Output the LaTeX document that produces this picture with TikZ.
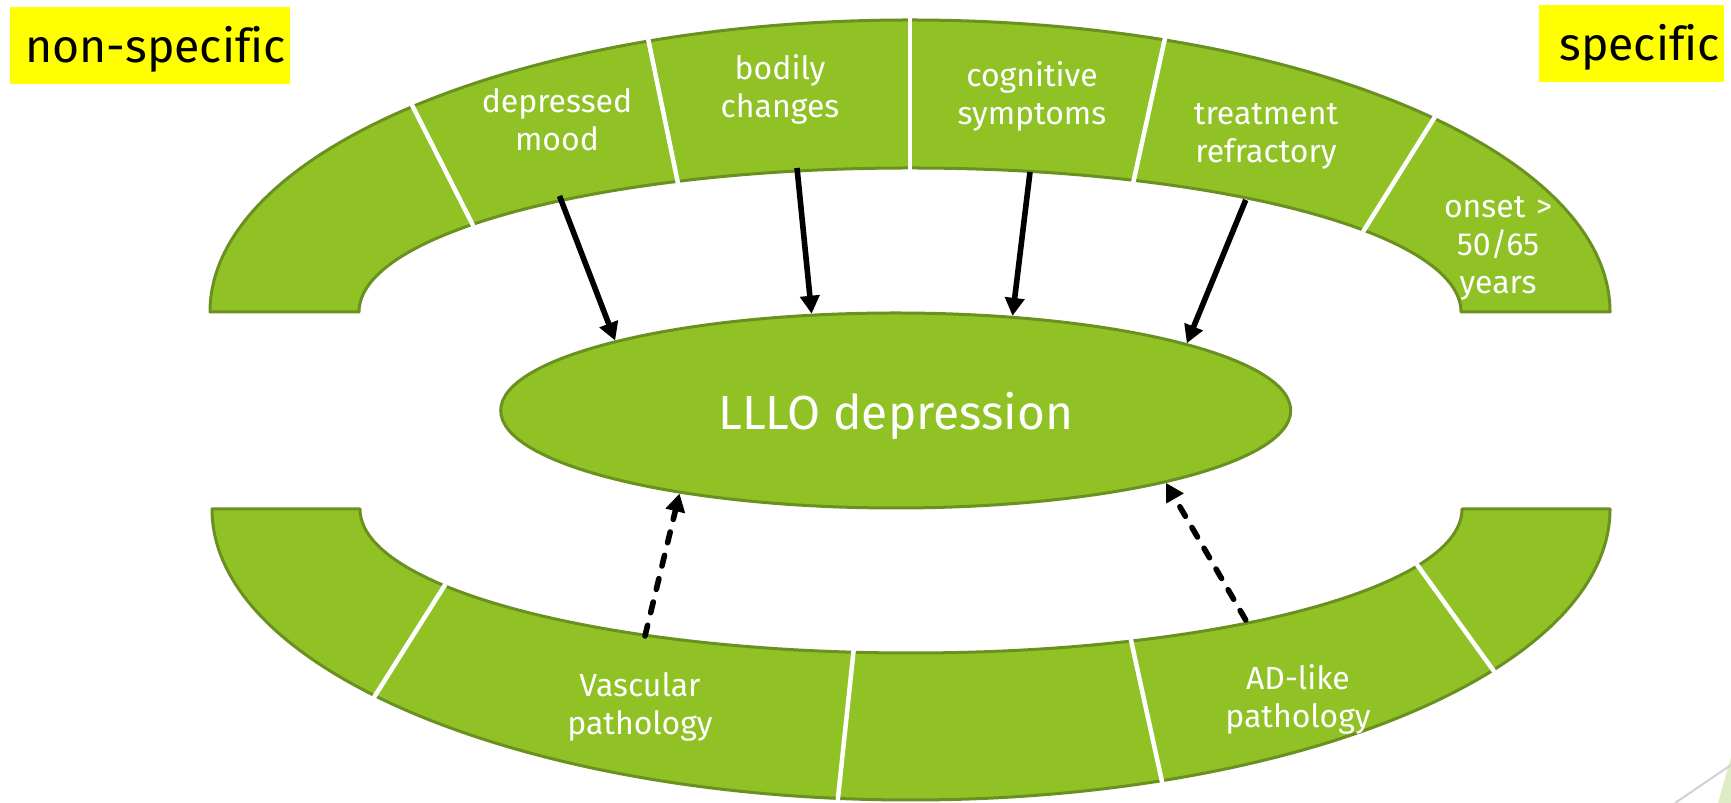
\documentclass[tikz,border=0pt]{standalone}
\usepackage{fontspec}
\setmainfont{Fira Sans}[Ligatures=NoCommon]
\usepackage{tikz}
\usetikzlibrary{shapes.geometric,arrows.meta,positioning,calc}

\definecolor{bandgreen}{HTML}{90C226}
\definecolor{bandedge}{HTML}{6A9020}
\definecolor{tagyellow}{HTML}{FFFF00}
\definecolor{fadegreen}{HTML}{DDEBC6}
\definecolor{fadegray}{HTML}{D2D2D2}

\begin{document}
\begin{tikzpicture}[x=0.1mm, y=-0.1mm,
    band/.style={fill=bandgreen, draw=bandedge, line width=0.3mm, line join=round},
    divider/.style={white, line width=0.45mm},
    itemtext/.style={text=white, font=\fontsize{9.1}{10.7}\selectfont, text width=30mm, align=center, anchor=base, inner sep=0},
    cornertag/.style={fill=tagyellow, font=\fontsize{13.2}{15}\selectfont, inner xsep=0.43mm, inner ysep=0.4mm, text height=5.2mm, text depth=1.7mm, align=right, anchor=north west},
    cause/.style={-{Triangle[length=1.8mm, width=1.9mm]}, line width=0.56mm},
    risk/.style={cause, dash pattern=on 1.1mm off 1.3mm, line cap=round}]
        \useasboundingbox (0,0) rectangle (1731,803);

        % Top band (symptoms)
        \coordinate (TC) at (910,312);
        \draw[band] (210,312) arc[start angle=180, end angle=360, x radius=700, y radius=292]
            -- (1461,312) arc[start angle=360, end angle=180, x radius=551, y radius=144] -- cycle;
        \draw[divider] ($(TC)+(224.8:702 and 294)$) -- ($(TC)+(217.3:549 and 142)$);
        \draw[divider] ($(TC)+(248.1:702 and 294)$) -- ($(TC)+(245:549 and 142)$);
        \draw[divider] ($(TC)+(270:702 and 294)$) -- ($(TC)+(270:549 and 142)$);
        \draw[divider] ($(TC)+(291.3:702 and 294)$) -- ($(TC)+(294:549 and 142)$);
        \draw[divider] ($(TC)+(318.4:702 and 294)$) -- ($(TC)+(325.6:549 and 142)$);

        % Bottom band (pathology)
        \coordinate (BC) at (911,509);
        \draw[band] (212,509) arc[start angle=180, end angle=0, x radius=699, y radius=291]
            -- (1462,509) arc[start angle=0, end angle=180, x radius=551, y radius=144] -- cycle;
        \draw[divider] ($(BC)+(140:701 and 293)$) -- ($(BC)+(148:549 and 142)$);
        \draw[divider] ($(BC)+(96:701 and 293)$) -- ($(BC)+(96:549 and 142)$);
        \draw[divider] ($(BC)+(69:701 and 293)$) -- ($(BC)+(66.4:549 and 142)$);
        \draw[divider] ($(BC)+(33.7:701 and 293)$) -- ($(BC)+(22.9:549 and 142)$);

        % Band labels
        \node[itemtext] (mood) at (557,113) {depressed\\mood};
        \node[itemtext] (bodily) at (780,80) {bodily\\changes};
        \node[itemtext] (cognitive) at (1032,87) {cognitive\\symptoms};
        \node[itemtext] (treatment) at (1266,125) {treatment\\refractory};
        \node[itemtext] (onset) at (1498,218) {onset >\\50/65\\years};
        \node[itemtext] (vascular) at (640,697) {Vascular\\pathology};
        \node[itemtext] (adlike) at (1298,690) {AD-like\\pathology};

        % Centre ellipse
        \node[ellipse, draw=bandedge, fill=bandgreen, line width=0.3mm, minimum width=79mm, minimum height=19.5mm,
            inner sep=0, text=white, text depth=0pt, font=\fontsize{13.6}{16}\selectfont] (lllo) at (895.7,410.5) {LLLO depression};

        % Arrows into the ellipse
        \coordinate (moodfoot) at (559.5,196);
        \coordinate (bodilyfoot) at (797,168);
        \coordinate (cognitivefoot) at (1030,172);
        \coordinate (treatmentfoot) at (1245.7,200);
        \coordinate (vascularfoot) at (645,636);
        \coordinate (adlikefoot) at (1245.7,620);
        \draw[cause] (moodfoot) -- (lllo.166.2);
        \draw[cause] (bodilyfoot) -- (lllo.131.9);
        \draw[cause] (cognitivefoot) -- (lllo.39.7);
        \draw[cause] (treatmentfoot) -- (lllo.13.4);
        \draw[risk] (vascularfoot) -- (lllo.201.4);
        \draw[risk] (adlikefoot) -- (lllo.345.5);

        % Corner tags
        \node[cornertag, text width=27.2mm] (nonspec) at (9,6) {non-specific};
        \node[cornertag, text width=17.7mm] (spec) at (1538,4) {specific};

        % Slide corner
        \fill[fadegreen] (1718,803) -- (1731,757) -- (1731,803) -- cycle;
        \draw[fadegray, line width=0.2mm] (1675,803) -- (1731,765);
\end{tikzpicture}
\end{document}
